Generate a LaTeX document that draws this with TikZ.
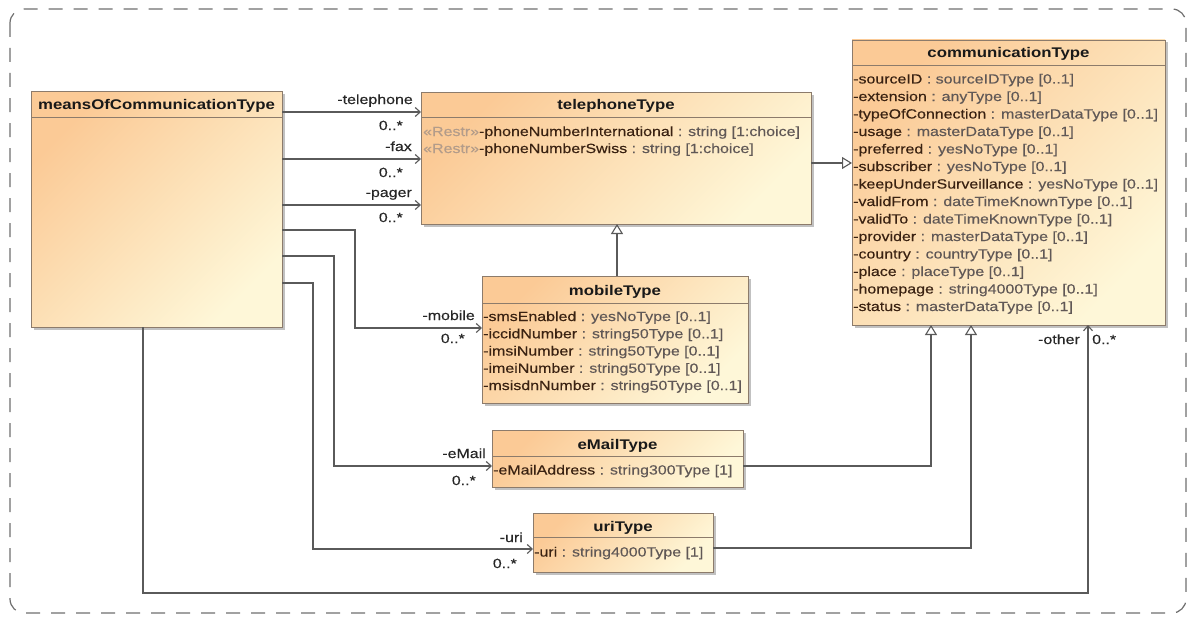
\documentclass[tikz,border=0pt]{standalone}
\usepackage{fontspec}
\setmainfont{Liberation Sans}[FakeStretch=1.2]
\newfontfamily\txtfont{Liberation Sans}[FakeStretch=1.2, FakeBold=0.25]
\usetikzlibrary{arrows.meta,calc,shadows}
\definecolor{bordC}{HTML}{8C7B6B}
\definecolor{nameC}{HTML}{3A2212}
\definecolor{typeC}{HTML}{605856}
\definecolor{restrC}{HTML}{B39C8A}
\definecolor{lineC}{HTML}{5A5A5A}
\definecolor{orgC}{HTML}{FBCA96}
\definecolor{creC}{HTML}{FEF7D8}
\definecolor{frameC}{HTML}{6E6E6E}
\newcommand\nm[1]{\textcolor{nameC}{#1}}
\newcommand\ty[1]{\textcolor{typeC}{#1}}
\newcommand\rs{\textcolor{restrC}{«Restr»}}
\begin{document}
\begin{tikzpicture}[x=1pt,y=-1pt,
  cls/.style={draw=bordC, line width=0.9pt, inner sep=0pt, outer sep=0pt, anchor=north west,
    top color=orgC, bottom color=creC, shading angle=45,
    drop shadow={shadow xshift=2.5pt, shadow yshift=-2.5pt, opacity=0.35, fill=black!70}},
  hline/.style={draw=bordC, line width=0.9pt},
  hdr/.style={anchor=base, inner sep=0pt, font=\fontsize{14}{16}\selectfont\bfseries, text=black!90},
  attr/.style={anchor=base west, inner sep=0pt, font=\txtfont\fontsize{13.3}{16}\selectfont},
  lbl/.style={anchor=base east, inner sep=0pt, font=\txtfont\fontsize{13.3}{16}\selectfont, text=black!85},
  assoc/.style={draw=lineC, line width=1.1pt, -{Straight Barb[length=5pt,width=9pt]}},
  gen/.style={draw=lineC, line width=1.1pt, -{Triangle[length=10pt,width=12pt,fill=white]}},
  frame/.style={draw=frameC, line width=1.2pt, dash pattern=on 14pt off 11pt, rounded corners=14pt}
]
\useasboundingbox (0,0) rectangle (1189,618);
\draw[frame] (10,9) rectangle (1186,613);

% meansOfCommunicationType
\node[cls, minimum width=251pt, minimum height=236pt] (means) at (31,91) {};
\draw[hline] ($(means.north west)+(0,26)$) -- ($(means.north east)+(0,26)$);
\node[hdr] (means-h) at (156.5,109) {meansOfCommunicationType};

% telephoneType
\node[cls, minimum width=390pt, minimum height=132pt] (tel) at (421,92) {};
\draw[hline] ($(tel.north west)+(0,25)$) -- ($(tel.north east)+(0,25)$);
\node[hdr] (tel-h) at (616,110) {telephoneType};
\node[attr] (tel-a1) at (423,136) {\rs\nm{-phoneNumberInternational} \ty{: string [1:choice]}};
\node[attr] (tel-a2) at (423,153) {\rs\nm{-phoneNumberSwiss} \ty{: string [1:choice]}};

% communicationType
\node[cls, minimum width=313pt, minimum height=285pt] (comm) at (852,40) {};
\draw[hline] ($(comm.north west)+(0,25)$) -- ($(comm.north east)+(0,25)$);
\node[hdr] (comm-h) at (1008.5,58) {communicationType};
\foreach \n/\t [count=\i] in {sourceID/sourceIDType [0..1],extension/anyType [0..1],typeOfConnection/masterDataType [0..1],usage/masterDataType [0..1],preferred/yesNoType [0..1],subscriber/yesNoType [0..1],keepUnderSurveillance/yesNoType [0..1],validFrom/dateTimeKnownType [0..1],validTo/dateTimeKnownType [0..1],provider/masterDataType [0..1],country/countryType [0..1],place/placeType [0..1],homepage/string4000Type [0..1],status/masterDataType [0..1]}
  \node[attr] (comm-a\i) at (853,{83.5+17.5*(\i-1)}) {\nm{-\n} \ty{: \t}};

% mobileType
\node[cls, minimum width=266pt, minimum height=127pt] (mobile) at (482,276) {};
\draw[hline] ($(mobile.north west)+(0,27)$) -- ($(mobile.north east)+(0,27)$);
\node[hdr] (mobile-h) at (615,295) {mobileType};
\foreach \n/\t [count=\i] in {smsEnabled/yesNoType [0..1],iccidNumber/string50Type [0..1],imsiNumber/string50Type [0..1],imeiNumber/string50Type [0..1],msisdnNumber/string50Type [0..1]}
  \node[attr] (mobile-a\i) at (483,{321+17.25*(\i-1)}) {\nm{-\n} \ty{: \t}};

% eMailType
\node[cls, minimum width=251pt, minimum height=57pt] (email) at (492,430) {};
\draw[hline] ($(email.north west)+(0,26)$) -- ($(email.north east)+(0,26)$);
\node[hdr] (email-h) at (617.5,449) {eMailType};
\node[attr] (email-a1) at (493,474.5) {\nm{-eMailAddress} \ty{: string300Type [1]}};

% uriType
\node[cls, minimum width=180pt, minimum height=59pt] (uri) at (533,513) {};
\draw[hline] ($(uri.north west)+(0,24)$) -- ($(uri.north east)+(0,24)$);
\node[hdr] (uri-h) at (623,531) {uriType};
\node[attr] (uri-a1) at (534,556.5) {\nm{-uri} \ty{: string4000Type [1]}};

% associations
\draw[assoc] ($(means.north east)+(0,21)$) -- ($(tel.north west)+(0,20)$);
\draw[assoc] ($(means.north east)+(0,68)$) -- ($(tel.north west)+(0,67)$);
\draw[assoc] ($(means.north east)+(0,114)$) -- ($(tel.north west)+(0,113)$);
\draw[assoc] ($(means.north east)+(0,139)$) -| ($(mobile.north west)+(-127,52)$) -- ($(mobile.north west)+(0,52)$);
\draw[assoc] ($(means.north east)+(0,165)$) -| ($(email.north west)+(-158,36)$) -- ($(email.north west)+(0,36)$);
\draw[assoc] ($(means.north east)+(0,192)$) -| ($(uri.north west)+(-220,36)$) -- ($(uri.north west)+(0,36)$);
\draw[assoc] ($(means.south west)+(112,0)$) |- ($(comm.south west)+(236,268)$) -- ($(comm.south west)+(236,0)$);

% generalizations
\draw[gen] ($(tel.north east)+(0,71)$) -- ($(comm.north west)+(0,123)$);
\draw[gen] ($(mobile.north west)+(135,0)$) -- ($(tel.south west)+(196,0)$);
\draw[gen] ($(email.north east)+(0,36)$) -| ($(comm.south west)+(79,0)$);
\draw[gen] ($(uri.north east)+(0,35)$) -| ($(comm.south west)+(119,0)$);

% role and multiplicity labels
\node[lbl] (l-tel) at (413,104) {-telephone};
\node[lbl] (m-tel) at (403,130) {0..*};
\node[lbl] (l-fax) at (412,151) {-fax};
\node[lbl] (m-fax) at (403,177) {0..*};
\node[lbl] (l-pager) at (412,197) {-pager};
\node[lbl] (m-pager) at (403,222) {0..*};
\node[lbl] (l-mobile) at (475,320) {-mobile};
\node[lbl] (m-mobile) at (465,343) {0..*};
\node[lbl] (l-email) at (486,458) {-eMail};
\node[lbl] (m-email) at (476,485) {0..*};
\node[lbl] (l-uri) at (523,542) {-uri};
\node[lbl] (m-uri) at (517,568) {0..*};
\node[lbl] (l-other) at (1080,344) {-other};
\node[lbl, anchor=base west] (m-other) at (1092,344) {0..*};
\end{tikzpicture}
\end{document}
